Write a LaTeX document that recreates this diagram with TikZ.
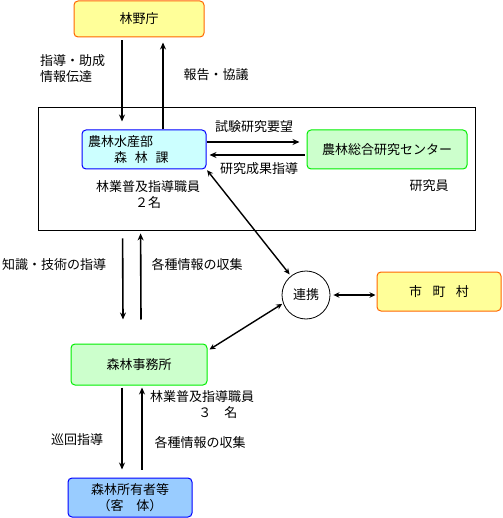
\documentclass[tikz,border=0pt]{standalone}
\usepackage{fontspec}
\setmainfont{Noto Sans CJK JP}
\usetikzlibrary{arrows.meta,positioning,shapes}
\definecolor{kiiro}{HTML}{FFFF99}
\definecolor{daidai}{HTML}{FF6600}
\definecolor{mizu}{HTML}{CCFFFF}
\definecolor{wakaba}{HTML}{CCFFCC}
\definecolor{midori}{HTML}{00EE00}
\definecolor{sora}{HTML}{99CCFF}
\definecolor{ao}{HTML}{0000FF}
\tikzset{
  box/.style={draw,rounded corners=4pt,line width=1pt,inner sep=0pt},
  arr/.style={-{Stealth[length=7pt,width=6pt]},line width=1.6pt},
  darr/.style={{Stealth[length=6pt,width=5.5pt]}-{Stealth[length=6pt,width=5.5pt]},line width=1.4pt},
  lbl/.style={inner sep=0pt,align=left}
}
\begin{document}
\begin{tikzpicture}[x=1pt,y=-1pt,font=\fontsize{13}{16}\selectfont]
\useasboundingbox (0,0) rectangle (502,518);
\node[box,fill=kiiro,draw=daidai,minimum width=130pt,minimum height=36pt] (rinya) at (139,19) {林野庁};
\node[draw,line width=0.8pt,minimum width=437pt,minimum height=123pt,inner sep=0pt] (ka) at (256.5,168.5) {};
\node[box,fill=mizu,draw=ao,minimum width=124pt,minimum height=39pt,text width=112pt,align=left] (bu) at (144,149.5) {農林水産部\\\hspace*{2em}森\hspace{0.6em}林\hspace{0.6em}課};
\node[box,fill=wakaba,draw=midori,minimum width=160pt,minimum height=39pt] (center) at (387,149.5) {農林総合研究センター};
\node[draw,circle,line width=0.8pt,minimum size=48pt,inner sep=0pt] (renkei) at (306,295) {連携};
\node[box,fill=kiiro,draw=daidai,minimum width=124pt,minimum height=39pt] (shi) at (439,291.5) {市\hspace{0.8em}町\hspace{0.8em}村};
\node[box,fill=wakaba,draw=midori,minimum width=136pt,minimum height=41pt] (jimusho) at (139,364.5) {森林事務所};
\node[box,fill=sora,draw=ao,minimum width=124pt,minimum height=39pt,align=center] (owner) at (130,497.5) {森林所有者等\\（客\hspace{1em}体）};
% labels
\node[lbl,anchor=west] (l1) at (40,68.5) {指導・助成\\情報伝達};
\node[lbl] (l2) at (216,75) {報告・協議};
\node[lbl] (l3) at (254,127) {試験研究要望};
\node[lbl] (l4) at (259,169) {研究成果指導};
\node[lbl,align=center] (l5) at (148,195) {林業普及指導職員\\２名};
\node[lbl] (l6) at (429,186) {研究員};
\node[lbl] (l7) at (54,265) {知識・技術の指導};
\node[lbl] (l8) at (197,265) {各種情報の収集};
\node[lbl,anchor=west] (l9) at (150,404.5) {林業普及指導職員\\\hspace*{3.7em}３\hspace{1em}名};
\node[lbl] (l10) at (77,440) {巡回指導};
\node[lbl] (l11) at (200,443) {各種情報の収集};
% arrows
\draw[arr] ([xshift=-17pt,yshift=-3pt]rinya.south) -- ([xshift=-22pt,yshift=8pt]bu.north);
\draw[arr] ([xshift=19pt]bu.north) -- ([xshift=24pt,yshift=-5pt]rinya.south);
\draw[arr] ([yshift=7.5pt]bu.east) -- ([xshift=-7pt,yshift=7.5pt]center.west);
\draw[arr] ([xshift=-2pt,yshift=-5.5pt]center.west) -- ([xshift=3pt,yshift=-5.5pt]bu.east);
\draw[darr,shorten <=1pt,shorten >=2pt] (bu.south east) -- (renkei);
\draw[darr,shorten <=3pt,shorten >=1pt] (renkei.east) -- (renkei.east -| shi.west);
\draw[darr,shorten <=1pt] (renkei.200) -- ([xshift=2pt,yshift=-6pt]jimusho.north east);
\draw[arr] ([xshift=85pt,yshift=-8pt]ka.south west) -- ([xshift=-16pt,yshift=24pt]jimusho.north);
\draw[arr] ([xshift=2pt,yshift=24pt]jimusho.north) -- ([xshift=103pt,yshift=-3pt]ka.south west);
\draw[arr] ([xshift=-17pt,yshift=-2pt]jimusho.south) -- ([xshift=-8pt,yshift=8pt]owner.north);
\draw[arr] ([xshift=12pt,yshift=8pt]owner.north) -- ([xshift=3pt,yshift=-2pt]jimusho.south);
\end{tikzpicture}
\end{document}
